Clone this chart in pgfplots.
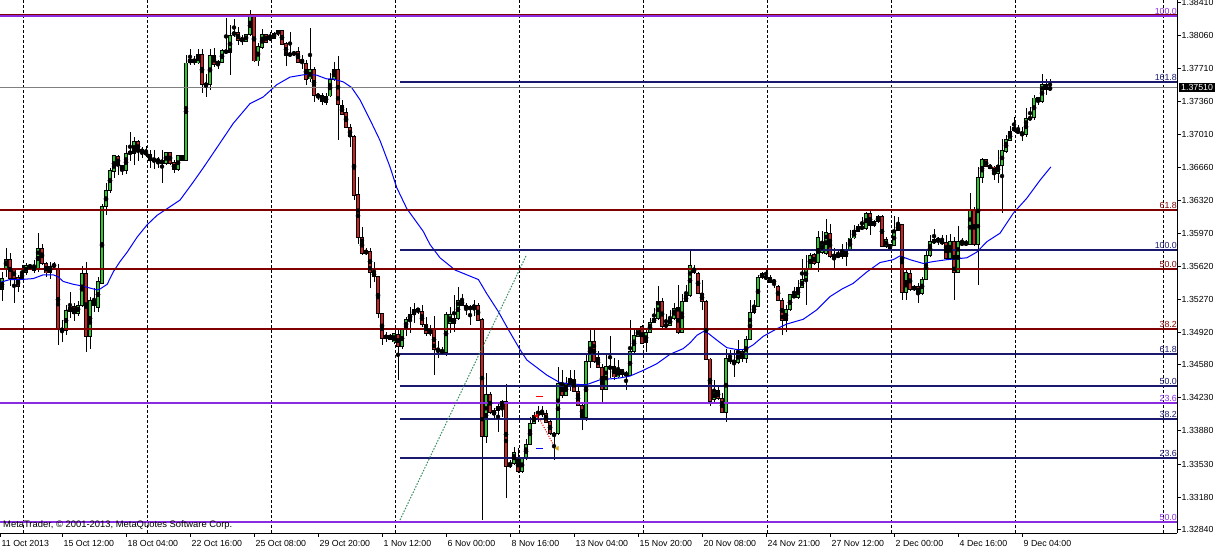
\documentclass[border=0pt]{standalone}
\usepackage{pgfplots}
\usepackage{pgfplotstable}
\pgfplotsset{compat=1.18}
\usepackage{fontspec}
\setmainfont{Liberation Sans}
\definecolor{bull}{RGB}{40,205,40}
\definecolor{bear}{RGB}{215,30,30}
\definecolor{fibred}{RGB}{128,0,0}
\definecolor{fibnavy}{RGB}{25,25,112}
\definecolor{fibpurple}{RGB}{138,43,226}
\definecolor{trendgreen}{RGB}{46,139,87}
\definecolor{goldtri}{RGB}{218,165,32}
\pgfplotstableread{
i o h l c
0 1.3537 1.3556 1.3525 1.3549
1 1.3560 1.3581 1.3551 1.3569
2 1.3569 1.3576 1.3541 1.3549
3 1.3559 1.3560 1.3523 1.3549
4 1.3550 1.3553 1.3535 1.3541
5 1.3549 1.3563 1.3548 1.3555
6 1.3555 1.3565 1.3553 1.3563
7 1.3562 1.3565 1.3558 1.3562
8 1.3562 1.3569 1.3555 1.3558
9 1.3560 1.3597 1.3556 1.3581
10 1.3581 1.3586 1.3563 1.3565
11 1.3565 1.3567 1.3551 1.3555
12 1.3555 1.3567 1.3549 1.3562
13 1.3563 1.3567 1.3558 1.3563
14 1.3559 1.3565 1.3479 1.3495
15 1.3496 1.3505 1.3482 1.3494
16 1.3494 1.3521 1.3489 1.3515
17 1.3514 1.3535 1.3507 1.3519
18 1.3520 1.3523 1.3504 1.3512
19 1.3512 1.3525 1.3509 1.3521
20 1.3521 1.3562 1.3519 1.3555
21 1.3555 1.3567 1.3472 1.3488
22 1.3488 1.3530 1.3475 1.3526
23 1.3526 1.3539 1.3514 1.3521
24 1.3518 1.3551 1.3514 1.3546
25 1.3544 1.3628 1.3543 1.3625
26 1.3625 1.3650 1.3616 1.3642
27 1.3642 1.3666 1.3639 1.3663
28 1.3662 1.3680 1.3655 1.3679
29 1.3678 1.3680 1.3659 1.3669
30 1.3669 1.3669 1.3659 1.3663
31 1.3663 1.3690 1.3660 1.3681
32 1.3682 1.3704 1.3673 1.3682
33 1.3681 1.3699 1.3669 1.3694
34 1.3694 1.3695 1.3673 1.3683
35 1.3684 1.3688 1.3676 1.3684
36 1.3683 1.3689 1.3678 1.3680
37 1.3680 1.3685 1.3666 1.3674
38 1.3674 1.3685 1.3665 1.3674
39 1.3674 1.3678 1.3666 1.3674
40 1.3674 1.3685 1.3650 1.3671
41 1.3671 1.3683 1.3669 1.3682
42 1.3682 1.3683 1.3669 1.3671
43 1.3672 1.3674 1.3661 1.3664
44 1.3664 1.3680 1.3663 1.3679
45 1.3679 1.3680 1.3673 1.3674
46 1.3674 1.3785 1.3673 1.3777
47 1.3777 1.3792 1.3775 1.3781
48 1.3781 1.3784 1.3775 1.3777
49 1.3777 1.3792 1.3776 1.3786
50 1.3786 1.3792 1.3745 1.3754
51 1.3754 1.3765 1.3741 1.3754
52 1.3754 1.3792 1.3748 1.3785
53 1.3785 1.3793 1.3773 1.3775
54 1.3775 1.3780 1.3771 1.3779
55 1.3778 1.3792 1.3777 1.3790
56 1.3788 1.3824 1.3786 1.3790
57 1.3788 1.3817 1.3764 1.3806
58 1.3807 1.3824 1.3805 1.3809
59 1.3809 1.3815 1.3796 1.3801
60 1.3802 1.3806 1.3796 1.3802
61 1.3800 1.3808 1.3799 1.3807
62 1.3807 1.3833 1.3806 1.3826
63 1.3826 1.3826 1.3778 1.3779
64 1.3779 1.3798 1.3774 1.3794
65 1.3793 1.3813 1.3792 1.3807
66 1.3807 1.3808 1.3799 1.3799
67 1.3804 1.3810 1.3800 1.3802
68 1.3803 1.3810 1.3802 1.3808
69 1.3808 1.3812 1.3806 1.3811
70 1.3811 1.3811 1.3796 1.3797
71 1.3798 1.3799 1.3774 1.3785
72 1.3786 1.3810 1.3785 1.3786
73 1.3787 1.3789 1.3785 1.3787
74 1.3789 1.3794 1.3777 1.3778
75 1.3779 1.3785 1.3771 1.3779
76 1.3776 1.3780 1.3754 1.3760
77 1.3760 1.3814 1.3757 1.3770
78 1.3770 1.3773 1.3736 1.3743
79 1.3743 1.3745 1.3738 1.3742
80 1.3743 1.3745 1.3733 1.3736
81 1.3735 1.3745 1.3733 1.3742
82 1.3742 1.3766 1.3741 1.3759
83 1.3759 1.3778 1.3758 1.3770
84 1.3770 1.3784 1.3695 1.3733
85 1.3732 1.3738 1.3722 1.3723
86 1.3725 1.3729 1.3708 1.3709
87 1.3709 1.3713 1.3688 1.3699
88 1.3699 1.3701 1.3632 1.3637
89 1.3638 1.3656 1.3586 1.3593
90 1.3593 1.3604 1.3574 1.3576
91 1.3576 1.3581 1.3574 1.3578
92 1.3578 1.3581 1.3539 1.3556
93 1.3556 1.3567 1.3546 1.3551
94 1.3551 1.3552 1.3507 1.3512
95 1.3512 1.3513 1.3479 1.3486
96 1.3489 1.3493 1.3482 1.3486
97 1.3489 1.3491 1.3484 1.3485
98 1.3482 1.3491 1.3480 1.3491
99 1.3490 1.3495 1.3442 1.3477
100 1.3477 1.3496 1.3475 1.3495
101 1.3496 1.3509 1.3488 1.3506
102 1.3506 1.3519 1.3491 1.3511
103 1.3511 1.3523 1.3502 1.3516
104 1.3517 1.3518 1.3512 1.3515
105 1.3514 1.3521 1.3498 1.3500
106 1.3501 1.3509 1.3488 1.3491
107 1.3491 1.3500 1.3488 1.3494
108 1.3495 1.3509 1.3447 1.3474
109 1.3473 1.3483 1.3465 1.3473
110 1.3473 1.3477 1.3468 1.3471
111 1.3471 1.3514 1.3467 1.3511
112 1.3502 1.3519 1.3492 1.3511
113 1.3507 1.3532 1.3493 1.3502
114 1.3507 1.3540 1.3505 1.3526
115 1.3526 1.3533 1.3520 1.3521
116 1.3521 1.3523 1.3511 1.3517
117 1.3518 1.3521 1.3500 1.3518
118 1.3518 1.3526 1.3509 1.3521
119 1.3521 1.3523 1.3505 1.3505
120 1.3506 1.3507 1.3294 1.3382
121 1.3382 1.3449 1.3375 1.3427
122 1.3427 1.3429 1.3406 1.3408
123 1.3405 1.3412 1.3401 1.3410
124 1.3410 1.3419 1.3387 1.3414
125 1.3414 1.3421 1.3403 1.3419
126 1.3419 1.3438 1.3317 1.3350
127 1.3350 1.3357 1.3349 1.3354
128 1.3354 1.3371 1.3352 1.3365
129 1.3359 1.3370 1.3343 1.3345
130 1.3345 1.3361 1.3344 1.3359
131 1.3359 1.3380 1.3357 1.3374
132 1.3374 1.3403 1.3373 1.3396
133 1.3396 1.3408 1.3395 1.3404
134 1.3407 1.3414 1.3398 1.3407
135 1.3407 1.3414 1.3403 1.3407
136 1.3406 1.3410 1.3396 1.3397
137 1.3398 1.3400 1.3384 1.3385
138 1.3385 1.3387 1.3357 1.3383
139 1.3385 1.3456 1.3384 1.3438
140 1.3438 1.3452 1.3423 1.3426
141 1.3426 1.3445 1.3425 1.3438
142 1.3437 1.3452 1.3430 1.3443
143 1.3443 1.3452 1.3429 1.3430
144 1.3430 1.3438 1.3414 1.3415
145 1.3415 1.3419 1.3389 1.3402
146 1.3402 1.3468 1.3399 1.3461
147 1.3461 1.3495 1.3455 1.3483
148 1.3483 1.3495 1.3460 1.3461
149 1.3466 1.3472 1.3454 1.3455
150 1.3455 1.3459 1.3419 1.3432
151 1.3432 1.3468 1.3431 1.3456
152 1.3456 1.3488 1.3444 1.3454
153 1.3456 1.3465 1.3442 1.3445
154 1.3445 1.3463 1.3444 1.3453
155 1.3453 1.3454 1.3445 1.3448
156 1.3448 1.3451 1.3431 1.3448
157 1.3447 1.3505 1.3446 1.3472
158 1.3472 1.3495 1.3470 1.3489
159 1.3488 1.3496 1.3488 1.3495
160 1.3498 1.3500 1.3480 1.3481
161 1.3481 1.3495 1.3472 1.3492
162 1.3492 1.3507 1.3491 1.3503
163 1.3503 1.3518 1.3502 1.3507
164 1.3507 1.3541 1.3505 1.3525
165 1.3525 1.3528 1.3496 1.3498
166 1.3498 1.3512 1.3496 1.3501
167 1.3500 1.3516 1.3499 1.3507
168 1.3507 1.3523 1.3505 1.3518
169 1.3518 1.3542 1.3491 1.3492
170 1.3492 1.3533 1.3491 1.3525
171 1.3525 1.3542 1.3525 1.3531
172 1.3531 1.3579 1.3530 1.3563
173 1.3560 1.3563 1.3554 1.3555
174 1.3555 1.3556 1.3533 1.3533
175 1.3533 1.3548 1.3516 1.3525
176 1.3525 1.3526 1.3463 1.3464
177 1.3464 1.3465 1.3414 1.3419
178 1.3421 1.3442 1.3419 1.3430
179 1.3431 1.3435 1.3421 1.3422
180 1.3422 1.3428 1.3407 1.3408
181 1.3408 1.3475 1.3398 1.3465
182 1.3465 1.3474 1.3459 1.3461
183 1.3461 1.3474 1.3445 1.3461
184 1.3460 1.3484 1.3459 1.3472
185 1.3472 1.3474 1.3461 1.3465
186 1.3465 1.3488 1.3460 1.3485
187 1.3485 1.3526 1.3484 1.3513
188 1.3513 1.3527 1.3512 1.3520
189 1.3520 1.3553 1.3519 1.3550
190 1.3550 1.3556 1.3549 1.3555
191 1.3550 1.3560 1.3548 1.3550
192 1.3550 1.3553 1.3544 1.3545
193 1.3546 1.3548 1.3539 1.3546
194 1.3541 1.3542 1.3526 1.3526
195 1.3526 1.3528 1.3489 1.3505
196 1.3505 1.3521 1.3493 1.3516
197 1.3516 1.3533 1.3515 1.3532
198 1.3529 1.3540 1.3528 1.3532
199 1.3529 1.3548 1.3528 1.3540
200 1.3540 1.3570 1.3539 1.3548
201 1.3548 1.3574 1.3521 1.3560
202 1.3560 1.3576 1.3559 1.3574
203 1.3574 1.3576 1.3563 1.3565
204 1.3566 1.3599 1.3556 1.3592
205 1.3577 1.3599 1.3575 1.3587
206 1.3576 1.3612 1.3574 1.3598
207 1.3597 1.3607 1.3571 1.3572
208 1.3573 1.3581 1.3560 1.3573
209 1.3573 1.3579 1.3571 1.3573
210 1.3572 1.3586 1.3570 1.3578
211 1.3572 1.3588 1.3562 1.3579
212 1.3579 1.3600 1.3578 1.3592
213 1.3592 1.3606 1.3591 1.3600
214 1.3599 1.3607 1.3598 1.3604
215 1.3602 1.3614 1.3601 1.3604
216 1.3602 1.3620 1.3601 1.3618
217 1.3618 1.3620 1.3595 1.3605
218 1.3605 1.3611 1.3604 1.3609
219 1.3609 1.3616 1.3608 1.3615
220 1.3615 1.3616 1.3582 1.3583
221 1.3583 1.3593 1.3581 1.3590
222 1.3585 1.3586 1.3579 1.3580
223 1.3584 1.3615 1.3583 1.3600
224 1.3600 1.3614 1.3600 1.3606
225 1.3606 1.3607 1.3526 1.3534
226 1.3534 1.3558 1.3526 1.3556
227 1.3555 1.3558 1.3536 1.3538
228 1.3541 1.3542 1.3536 1.3537
229 1.3541 1.3544 1.3523 1.3533
230 1.3533 1.3551 1.3532 1.3548
231 1.3548 1.3579 1.3547 1.3573
232 1.3573 1.3595 1.3572 1.3588
233 1.3587 1.3602 1.3586 1.3590
234 1.3590 1.3593 1.3585 1.3590
235 1.3589 1.3595 1.3585 1.3586
236 1.3587 1.3595 1.3569 1.3570
237 1.3570 1.3596 1.3569 1.3588
238 1.3588 1.3593 1.3526 1.3555
239 1.3555 1.3605 1.3555 1.3588
240 1.3587 1.3592 1.3584 1.3585
241 1.3586 1.3590 1.3584 1.3586
242 1.3585 1.3639 1.3584 1.3622
243 1.3622 1.3625 1.3584 1.3585
244 1.3585 1.3667 1.3542 1.3656
245 1.3656 1.3677 1.3650 1.3675
246 1.3675 1.3676 1.3667 1.3667
247 1.3667 1.3670 1.3665 1.3667
248 1.3667 1.3668 1.3653 1.3660
249 1.3660 1.3685 1.3650 1.3669
250 1.3669 1.3697 1.3618 1.3684
251 1.3683 1.3701 1.3682 1.3696
252 1.3695 1.3710 1.3694 1.3704
253 1.3709 1.3720 1.3704 1.3705
254 1.3706 1.3711 1.3703 1.3703
255 1.3704 1.3709 1.3694 1.3701
256 1.3701 1.3729 1.3699 1.3718
257 1.3718 1.3731 1.3717 1.3719
258 1.3719 1.3743 1.3717 1.3740
259 1.3740 1.3741 1.3733 1.3736
260 1.3736 1.3765 1.3735 1.3754
261 1.3754 1.3760 1.3743 1.3749
262 1.3749 1.3760 1.3748 1.3751
}\candles
\pgfplotstableread{
i ma
-0.5 1.3545
2 1.3548
4.5 1.3548
7.8 1.3549
10.3 1.3553
12.8 1.3553
14 1.3551
15.3 1.3546
17.8 1.3543
20.3 1.3541
22 1.3539
23.8 1.3537
24.5 1.3538
26.3 1.3543
27.8 1.3556
29.5 1.3567
31.3 1.3577
33.8 1.3593
36.3 1.3606
38.8 1.3616
41.3 1.3623
44.5 1.3632
47.8 1.3651
50.3 1.3666
53.5 1.3686
57.8 1.3713
62 1.3734
65.3 1.3741
68.7 1.3754
72 1.3762
76.2 1.3765
78.7 1.3764
81.2 1.3760
82.8 1.3760
85.3 1.3757
87.4 1.3751
89.5 1.3738
92 1.3717
94.5 1.3695
97 1.3667
98.7 1.3645
101.2 1.3623
105.3 1.3599
107 1.3585
109.5 1.3571
113.3 1.3558
119.1 1.3548
121.2 1.3533
124.1 1.3514
126.6 1.3495
129.5 1.3474
131.2 1.3463
136.2 1.3447
139.5 1.3439
144.5 1.3437
146.2 1.3437
149.5 1.3442
154.5 1.3444
157 1.3446
160.3 1.3452
163.7 1.3459
167 1.3469
170.3 1.3475
172 1.3481
173.7 1.3489
175.3 1.3493
176.6 1.3491
178.7 1.3484
181.2 1.3476
183.7 1.3474
185.8 1.3474
187.8 1.3479
190.3 1.3488
193.7 1.3496
196.2 1.3501
200.3 1.3506
203.7 1.3516
207 1.3530
210 1.3538
212.8 1.3544
216.2 1.3556
219.5 1.3566
222.8 1.3569
224.5 1.3573
227 1.3569
230.3 1.3565
232.8 1.3567
236.2 1.3569
241.2 1.3571
243.7 1.3577
246.2 1.3588
249.5 1.3597
252.8 1.3618
256.2 1.3634
259.5 1.3653
262.2 1.3667
}\madata
\newcommand{\lblfont}{\fontsize{8.8bp}{10bp}\selectfont}
\begin{document}
\begin{tikzpicture}
\useasboundingbox (0,-18bp) rectangle (1220bp,533bp);
\begin{axis}[
  at={(0,0)}, anchor=south west,
  scale only axis, width=1177bp, height=533bp,
  xmin=-0.5, xmax=293.75,
  ymin=1.32801, ymax=1.38435,
  axis x line*=bottom, axis y line*=right,
  axis line style={black, line width=1bp},
  tick align=outside,
  major tick length=3.5bp,
  tick style={black, line width=1bp},
  xtick={-0.5,15,31,47,63,79,95,111,127,143,159,175,191,207,223,239,255},
  xticklabels={11 Oct 2013,15 Oct 12:00,18 Oct 04:00,22 Oct 16:00,25 Oct 08:00,29 Oct 20:00,1 Nov 12:00,6 Nov 00:00,8 Nov 16:00,13 Nov 04:00,15 Nov 20:00,20 Nov 08:00,24 Nov 21:00,27 Nov 12:00,2 Dec 00:00,4 Dec 16:00,9 Dec 04:00},
  ytick={1.3841,1.3806,1.3771,1.3736,1.3701,1.3666,1.3632,1.3597,1.3562,1.3527,1.3492,1.3458,1.3423,1.3388,1.3353,1.3318,1.3284},
  yticklabels={1.38410,1.38060,1.37710,1.37360,1.37010,1.36660,1.36320,1.35970,1.35620,1.35270,1.34920,1.34580,1.34230,1.33880,1.33530,1.33180,1.32840},
  tick label style={font=\lblfont},
  xticklabel style={anchor=north west, inner sep=0pt, xshift=1.5bp, yshift=-4bp},
  yticklabel style={anchor=west, inner sep=0pt, xshift=1bp},
  clip=false,
  /pgf/number format/assume math mode=true,
]
% vertical dashed grid
\pgfplotsinvokeforeach{5.33,36.43,67.43,98.33,129.33,160.33,191.33,222.43,253.43,290.33}{
  \addplot[black, line width=1bp, dash pattern=on 3bp off 2bp] coordinates {(#1,1.32801) (#1,1.38435)};
}
% wicks
\addplot[only marks, mark=none, error bars/.cd, y dir=both, y explicit, error mark=none,
  error bar style={black, line width=1bp}]
  table[x=i, y expr={(\thisrow{h}+\thisrow{l})/2}, y error expr={(\thisrow{h}-\thisrow{l})/2}] {\candles};
% body outlines
\addplot[only marks, mark=none, error bars/.cd, y dir=both, y explicit, error mark=none,
  error bar style={black, line width=3.4bp}]
  table[x=i, y expr={(\thisrow{o}+\thisrow{c})/2}, y error expr={abs(\thisrow{c}-\thisrow{o})/2+0.00005}] {\candles};
% bull fills
\addplot[only marks, mark=none, error bars/.cd, y dir=both, y explicit, error mark=none,
  error bar style={bull, line width=1.6bp}]
  table[x=i, y expr={(\thisrow{o}+\thisrow{c})/2}, y error expr={(\thisrow{c}>\thisrow{o})*max((\thisrow{c}-\thisrow{o})/2-0.00005,0)}] {\candles};
% bear fills
\addplot[only marks, mark=none, error bars/.cd, y dir=both, y explicit, error mark=none,
  error bar style={bear, line width=1.6bp}]
  table[x=i, y expr={(\thisrow{o}+\thisrow{c})/2}, y error expr={(\thisrow{o}>\thisrow{c})*max((\thisrow{o}-\thisrow{c})/2-0.00005,0)}] {\candles};
% moving average
\addplot[blue, line width=1bp] table[x=i, y=ma] {\madata};
% current price line
\addplot[gray, line width=0.8bp] coordinates {(-0.5,1.3751) (293.75,1.3751)};
% maroon fibonacci
\addplot[fibred, line width=3bp] coordinates {(-0.5,1.38266) (293.75,1.38266)};
\addplot[fibred, line width=2bp] coordinates {(-0.5,1.36215) (293.75,1.36215)};
\addplot[fibred, line width=2bp] coordinates {(-0.5,1.35592) (293.75,1.35592)};
\addplot[fibred, line width=2bp] coordinates {(-0.5,1.34957) (293.75,1.34957)};
% navy fibonacci
\addplot[fibnavy, line width=2bp] coordinates {(99.5,1.37571) (293.75,1.37571)};
\addplot[fibnavy, line width=2bp] coordinates {(99.5,1.35793) (293.75,1.35793)};
\addplot[fibnavy, line width=2bp] coordinates {(99.5,1.34693) (293.75,1.34693)};
\addplot[fibnavy, line width=2bp] coordinates {(99.5,1.34358) (293.75,1.34358)};
\addplot[fibnavy, line width=2bp] coordinates {(99.5,1.34006) (293.75,1.34006)};
\addplot[fibnavy, line width=2bp] coordinates {(99.5,1.33597) (293.75,1.33597)};
% purple fibonacci
\addplot[fibpurple, line width=2bp] coordinates {(-0.5,1.38266) (293.75,1.38266)};
\addplot[fibpurple, line width=2bp] coordinates {(-0.5,1.34178) (293.75,1.34178)};
\addplot[fibpurple, line width=2bp] coordinates {(-0.5,1.32920) (293.75,1.32920)};
% trend line
\addplot[trendgreen, line width=1bp, dash pattern=on 1.5bp off 1.5bp] coordinates {(99.5,1.32939) (131.0,1.35729)};
% trade markers
\addplot[red, line width=1bp] coordinates {(133.5,1.34246) (135.25,1.34246)};
\addplot[blue, line width=1bp] coordinates {(133.5,1.33696) (135.25,1.33696)};
\addplot[red, line width=1bp, dash pattern=on 1bp off 1.5bp] coordinates {(134.3,1.34014) (138.1,1.33713)};
\addplot[red, only marks, mark=triangle*, mark size=2.3bp, mark options={rotate=90}] coordinates {(133.7,1.3404)};
\addplot[goldtri, only marks, mark=triangle*, mark size=2.3bp, mark options={rotate=90}] coordinates {(138.8,1.33696)};
% level labels
\begin{scope}[every node/.style={anchor=south east, inner sep=0pt, font=\lblfont, yshift=1.2bp}]
\node[fibpurple] at (axis cs:293.75,1.38266) {100.0};
\node[fibnavy] at (axis cs:293.75,1.37571) {161.8};
\node[fibred] at (axis cs:293.75,1.36215) {61.8};
\node[fibnavy] at (axis cs:293.75,1.35793) {100.0};
\node[fibred] at (axis cs:293.75,1.35592) {50.0};
\node[fibred] at (axis cs:293.75,1.34957) {38.2};
\node[fibnavy] at (axis cs:293.75,1.34693) {61.8};
\node[fibnavy] at (axis cs:293.75,1.34358) {50.0};
\node[fibpurple] at (axis cs:293.75,1.34178) {23.6};
\node[fibnavy] at (axis cs:293.75,1.34006) {38.2};
\node[fibnavy] at (axis cs:293.75,1.33597) {23.6};
\node[fibpurple] at (axis cs:293.75,1.32920) {50.0};
\end{scope}
\node[anchor=west, fill=black, text=white, inner xsep=2bp, inner ysep=1.2bp, font=\lblfont, xshift=2bp] at (axis cs:293.75,1.3751) {1.37510};
\node[anchor=south west, inner sep=0pt, font=\fontsize{9.4bp}{10bp}\selectfont, xshift=3bp, yshift=3bp] at (axis cs:-0.5,1.32801) {MetaTrader, © 2001-2013, MetaQuotes Software Corp.};
\end{axis}
\end{tikzpicture}
\end{document}
